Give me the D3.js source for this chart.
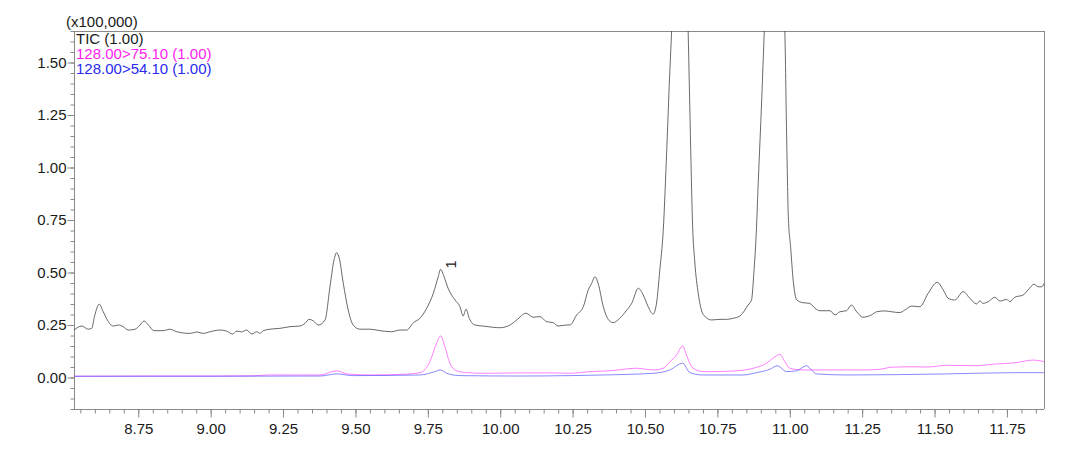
<!DOCTYPE html>
<html><head><meta charset="utf-8">
<script src="https://cdn.jsdelivr.net/npm/d3@7"></script>
<style>
html,body{margin:0;padding:0;background:#fff;}
svg{display:block;font-family:"Liberation Sans",Arial,sans-serif;}
</style></head>
<body><svg id="c" width="1080" height="449"></svg>
<script>
// Retention time (min) and intensity (x100,000)
const ticTime = [8.528,8.555,8.577,8.589,8.600,8.615,8.629,8.643,8.664,8.681,8.698,8.715,8.739,8.756,8.770,8.785,8.804,8.836,8.859,8.883,8.929,8.952,8.974,8.998,9.032,9.055,9.076,9.090,9.107,9.124,9.142,9.159,9.170,9.182,9.205,9.239,9.274,9.308,9.326,9.340,9.354,9.372,9.395,9.412,9.426,9.435,9.444,9.458,9.475,9.492,9.516,9.550,9.585,9.625,9.654,9.677,9.700,9.723,9.746,9.769,9.786,9.794,9.806,9.820,9.844,9.861,9.872,9.882,9.893,9.913,9.941,9.976,9.999,10.034,10.057,10.089,10.114,10.137,10.160,10.183,10.200,10.229,10.241,10.264,10.287,10.304,10.316,10.327,10.338,10.356,10.373,10.390,10.413,10.437,10.454,10.477,10.494,10.511,10.528,10.540,10.551,10.563,10.575,10.584,10.592,10.621,10.649,10.653,10.658,10.664,10.672,10.684,10.701,10.730,10.759,10.782,10.805,10.828,10.845,10.856,10.868,10.876,10.884,10.891,10.903,10.912,10.949,10.983,10.989,10.995,11.003,11.012,11.024,11.046,11.069,11.087,11.104,11.139,11.156,11.173,11.196,11.213,11.231,11.253,11.282,11.300,11.328,11.352,11.380,11.397,11.421,11.449,11.478,11.509,11.530,11.547,11.570,11.599,11.622,11.645,11.656,11.668,11.685,11.708,11.726,11.749,11.760,11.777,11.806,11.823,11.844,11.858,11.870,11.881];
const ticValue = [0.226,0.245,0.230,0.234,0.298,0.349,0.313,0.274,0.245,0.250,0.242,0.226,0.230,0.250,0.269,0.250,0.223,0.223,0.230,0.218,0.210,0.217,0.210,0.218,0.226,0.221,0.207,0.221,0.217,0.226,0.207,0.218,0.210,0.223,0.230,0.234,0.242,0.245,0.258,0.277,0.270,0.250,0.274,0.432,0.560,0.594,0.568,0.449,0.321,0.250,0.230,0.230,0.223,0.218,0.226,0.226,0.261,0.282,0.330,0.401,0.480,0.515,0.480,0.425,0.369,0.337,0.293,0.325,0.282,0.250,0.245,0.239,0.237,0.250,0.274,0.306,0.287,0.290,0.266,0.261,0.245,0.250,0.250,0.298,0.337,0.417,0.449,0.480,0.449,0.337,0.277,0.261,0.282,0.321,0.353,0.425,0.393,0.337,0.302,0.355,0.510,0.700,1.080,1.400,1.650,2.600,1.650,1.400,1.080,0.740,0.550,0.400,0.300,0.274,0.277,0.277,0.282,0.293,0.321,0.345,0.370,0.500,0.680,0.925,1.320,1.650,2.600,1.650,1.163,0.766,0.620,0.460,0.369,0.356,0.353,0.330,0.318,0.318,0.298,0.313,0.318,0.345,0.313,0.287,0.298,0.313,0.317,0.313,0.309,0.321,0.340,0.337,0.401,0.453,0.417,0.377,0.369,0.409,0.377,0.350,0.364,0.353,0.361,0.382,0.364,0.372,0.361,0.382,0.393,0.417,0.444,0.432,0.432,0.456];

const q1Time = [8.528,8.800,9.000,9.146,9.200,9.377,9.435,9.470,9.550,9.664,9.723,9.757,9.780,9.794,9.809,9.826,9.849,9.884,9.953,10.068,10.183,10.241,10.310,10.379,10.471,10.528,10.563,10.586,10.609,10.630,10.643,10.666,10.701,10.735,10.816,10.874,10.920,10.949,10.966,10.983,11.000,11.046,11.104,11.248,11.311,11.352,11.421,11.478,11.541,11.639,11.708,11.777,11.840,11.881];
const q1Value = [0.006,0.007,0.007,0.008,0.012,0.012,0.032,0.017,0.012,0.015,0.023,0.075,0.163,0.198,0.147,0.068,0.032,0.023,0.020,0.022,0.022,0.020,0.028,0.032,0.044,0.036,0.044,0.075,0.107,0.150,0.107,0.044,0.028,0.028,0.032,0.044,0.068,0.099,0.110,0.075,0.044,0.036,0.036,0.036,0.039,0.049,0.051,0.050,0.058,0.056,0.064,0.070,0.083,0.075];

const q2Time = [8.528,9.000,9.377,9.435,9.492,9.723,9.774,9.794,9.815,9.861,10.068,10.241,10.356,10.528,10.586,10.630,10.655,10.701,10.839,10.885,10.931,10.957,10.989,11.023,11.058,11.075,11.093,11.196,11.541,11.777,11.881];
const q2Value = [0.006,0.006,0.007,0.017,0.009,0.012,0.028,0.036,0.020,0.009,0.007,0.009,0.012,0.020,0.036,0.068,0.023,0.012,0.012,0.023,0.039,0.056,0.028,0.032,0.056,0.036,0.017,0.012,0.017,0.023,0.023];

const seriesNames = ["TIC (1.00)", "128.00>75.10 (1.00)", "128.00>54.10 (1.00)"];
const seriesColors = ["#3a3a3a", "#ff2bff", "#3a3aff"];
const xTicks = [8.75,9.00,9.25,9.50,9.75,10.00,10.25,10.50,10.75,11.00,11.25,11.50,11.75];
const yTicks = [0.00,0.25,0.50,0.75,1.00,1.25,1.50];
const yUnitLabel = "(x100,000)";
const peakLabel = {t: 9.794, v: 0.515, text: "1"};

const svg = d3.select("#c");
const L = 74, R = 1044, T = 31, B = 409;
const x = d3.scaleLinear().domain([8.528, 11.878]).range([L, R]);
const y = d3.scaleLinear().domain([-0.15, 1.65]).range([B, T]);

svg.append("defs").append("clipPath").attr("id","clip")
  .append("rect").attr("x", L).attr("y", T).attr("width", R-L).attr("height", B-T);

const axisColor = "#8a8a8a";
// frame
svg.append("line").attr("x1",L).attr("x2",R).attr("y1",T+0.5).attr("y2",T+0.5).attr("stroke",axisColor);
svg.append("line").attr("x1",R+0.5).attr("x2",R+0.5).attr("y1",T).attr("y2",B).attr("stroke",axisColor);

// minor ticks
const xMinor = d3.range(8.55, 11.876, 0.05).map(v => +v.toFixed(2));
const yMinor = d3.range(-0.15, 1.651, 0.05).map(v => +v.toFixed(2));

const gx = svg.append("g").attr("transform", `translate(0,${B+0.5})`);
gx.call(d3.axisBottom(x).tickValues(xMinor).tickSize(4).tickFormat(""));
gx.append("g").call(d3.axisBottom(x).tickValues(xTicks).tickSize(8).tickFormat(d3.format(".2f")));
gx.selectAll(".domain").attr("stroke", axisColor);
gx.select(".domain").attr("d", `M${L},0H${R}`);
gx.selectAll("g g .domain").remove();
gx.selectAll("line").attr("stroke", axisColor);
gx.selectAll("text").attr("fill","#1a1a1a").style("font-size","15px").attr("y", 13.5);

const gy = svg.append("g").attr("transform", `translate(${L+0.5},0)`);
gy.call(d3.axisLeft(y).tickValues(yMinor).tickSize(4).tickFormat(""));
gy.append("g").call(d3.axisLeft(y).tickValues(yTicks).tickSize(7).tickFormat(d3.format(".2f")));
gy.selectAll(".domain").attr("stroke", axisColor);
gy.select(".domain").attr("d", `M0,${T}V${B}`);
gy.selectAll("g g .domain").remove();
gy.selectAll("line").attr("stroke", axisColor);
gy.selectAll("text").attr("fill","#1a1a1a").style("font-size","15px").attr("x", -8);

// traces
const plot = svg.append("g").attr("clip-path","url(#clip)");
const line = d3.line().x(d => x(d[0])).y(d => y(d[1])).curve(d3.curveMonotoneX);
const traces = [
  d3.zip(ticTime, ticValue),
  d3.zip(q1Time, q1Value),
  d3.zip(q2Time, q2Value)
];
traces.forEach((data, i) => {
  plot.append("path").datum(data).attr("d", line)
    .attr("fill","none").attr("stroke", seriesColors[i])
    .attr("stroke-width", i === 0 ? 0.9 : 1)
    .attr("stroke-opacity", i === 0 ? 0.85 : 0.6)
    .attr("stroke-linejoin","round");
});

// unit label
svg.append("text").attr("x", 66).attr("y", 27).text(yUnitLabel)
  .attr("fill","#1a1a1a").style("font-size","15px");

// legend
const legendColors = ["#1a1a1a", "#ff22ee", "#2a2aee"];
seriesNames.forEach((n, i) => {
  svg.append("text").attr("x", 76).attr("y", 44 + i*15).text(n)
    .attr("fill", legendColors[i]).style("font-size","15px");
});

// peak label
svg.append("text")
  .attr("transform", `translate(${x(peakLabel.t)+15},${y(peakLabel.v)-5}) rotate(-90)`)
  .attr("text-anchor","middle").attr("fill","#1a1a1a").style("font-size","14px")
  .text(peakLabel.text);
</script></body></html>
